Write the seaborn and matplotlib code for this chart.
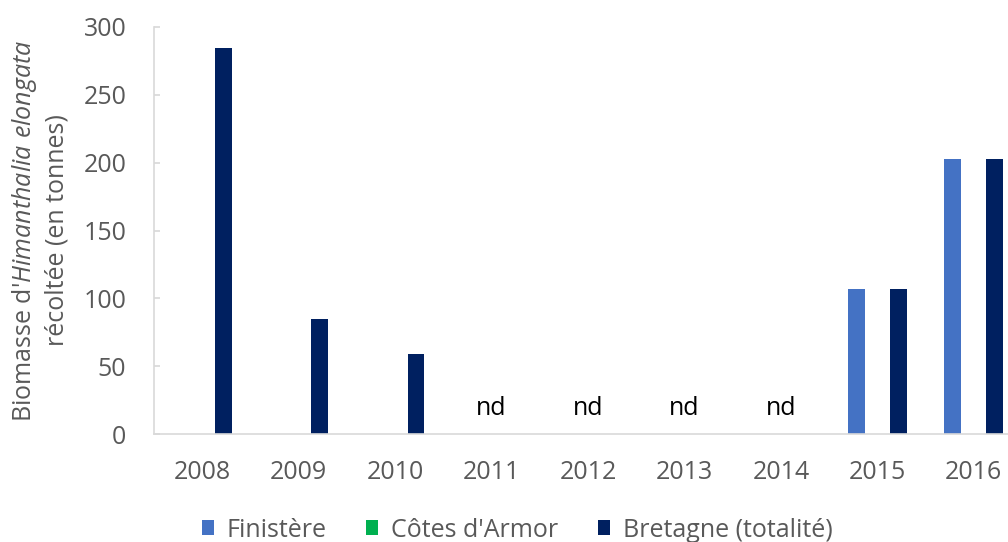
import matplotlib
matplotlib.use("Agg")
import matplotlib.pyplot as plt
from matplotlib.patches import Patch
import seaborn as sns
import pandas as pd
import numpy as np

years = ["2008", "2009", "2010", "2011", "2012", "2013", "2014", "2015", "2016"]
finistere = [np.nan, np.nan, np.nan, np.nan, np.nan, np.nan, np.nan, 106.6, 202.5]
cotes_armor = [np.nan] * 9
bretagne = [284.3, 85, 59, np.nan, np.nan, np.nan, np.nan, 106.6, 202.5]
nd_years = ["2011", "2012", "2013", "2014"]
series_names = ["Finistère", "Côtes d'Armor", "Bretagne (totalité)"]
colors = ["#4472C4", "#00B050", "#002060"]

sns.set_theme(style="white")
plt.rcParams["font.family"] = ["Open Sans", "DejaVu Sans"]
plt.rcParams["mathtext.fontset"] = "custom"
plt.rcParams["mathtext.rm"] = "Open Sans"
plt.rcParams["mathtext.it"] = "Open Sans:italic"

df = pd.DataFrame({
    "year": years * 3,
    "value": finistere + cotes_armor + bretagne,
    "series": [series_names[0]] * 9 + [series_names[1]] * 9 + [series_names[2]] * 9,
})

fig = plt.figure(figsize=(10.08, 5.42), dpi=100)
ax = fig.add_axes([154 / 1008, 1 - 434 / 542, 868 / 1008, 407 / 542])

sns.barplot(data=df, x="year", y="value", hue="series", order=years,
            hue_order=series_names, palette=colors, saturation=1,
            width=0.65, gap=0.19, linewidth=0, legend=False, ax=ax)

ax.set_xlim(-0.5, len(years) - 0.5)
ax.set_ylim(0, 300)
ax.set_yticks(range(0, 301, 50))

tick_color = "#595959"
fs = 18
for s in ["top", "right"]:
    ax.spines[s].set_visible(False)
for s in ["left", "bottom"]:
    ax.spines[s].set_color("#D9D9D9")
    ax.spines[s].set_linewidth(1.2)

ax.tick_params(axis="y", direction="in", length=4, color="#D9D9D9",
               labelsize=fs, labelcolor=tick_color, pad=20, left=True)
ax.tick_params(axis="x", length=0, labelsize=fs, labelcolor=tick_color, pad=19)
ax.set_xlabel("")
ax.set_ylabel("Biomasse d'$\\it{Himanthalia\\ elongata}$\nrécoltée (en tonnes)",
              fontsize=fs, color=tick_color, linespacing=1.3)
ax.yaxis.set_label_coords(-0.097, 0.5)

for y in nd_years:
    ax.text(years.index(y), 19, "nd", ha="center", va="center",
            fontsize=fs, color="black")

handles = [Patch(facecolor=c, edgecolor="none", label=n) for c, n in zip(colors, series_names)]
fig.legend(handles=handles, loc="center", bbox_to_anchor=(0.513, 0.022), ncol=3,
           frameon=False, fontsize=fs, labelcolor=tick_color,
           handlelength=0.48, handleheight=0.56, handletextpad=0.5,
           columnspacing=1.6, borderpad=0)

fig.savefig("out.png", dpi=100)
